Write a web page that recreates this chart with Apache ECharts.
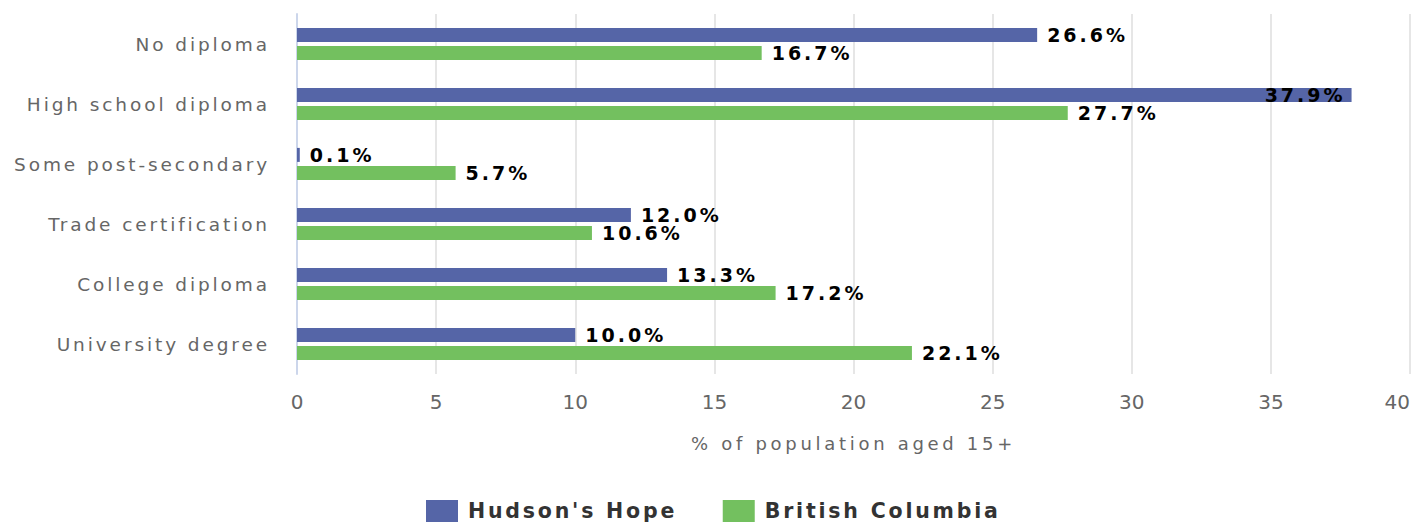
<!DOCTYPE html>
<html>
<head>
    <meta charset="UTF-8">
    <title>Education</title>
    <script src="https://cdn.jsdelivr.net/npm/echarts@6/dist/echarts.min.js"></script>
    <style>
        html, body { margin: 0; padding: 0; background: #fff; }
        #main { width: 1413px; height: 523px; }
        /* spacing between letters, the svg renderer leaves text in the DOM */
        #main text[style*="18px"] { letter-spacing: 3.7px; }
        #main text[style*="18.5px"] { letter-spacing: 2.9px; }
        #main text[style*="19px"] { letter-spacing: 3px; }
        #main text[style*="20.5px"] { letter-spacing: 2.8px; }
    </style>
</head>
<body>
<div id="main"></div>
<script type="text/javascript">
    // data
    var categories = ['No diploma', 'High school diploma', 'Some post-secondary',
        'Trade certification', 'College diploma', 'University degree'];
    var hudsonsHope = [26.6, 37.9, 0.1, 12.0, 13.3, 10.0];
    var britishColumbia = [16.7, 27.7, 5.7, 10.6, 17.2, 22.1];
    var xTicks = [0, 5, 10, 15, 20, 25, 30, 35, 40];

    var font = 'DejaVu Sans';

    var valueLabel = {
        show: true,
        position: 'right',
        distance: 10,
        color: '#000',
        fontFamily: font,
        fontWeight: 'bold',
        fontSize: 19,
        formatter: function (p) { return p.value.toFixed(1) + '%'; }
    };

    // the longest bar keeps its label inside
    var hhData = hudsonsHope.map(function (v) {
        if (v > 35) {
            return { value: v, label: { position: 'insideRight', distance: 6 } };
        }
        return v;
    });

    var myChart = echarts.init(document.getElementById('main'), null, { renderer: 'svg' });

    var option = {
        backgroundColor: '#fff',
        animation: false,
        grid: { left: 297, right: 3, top: 14, bottom: 149, outerBoundsMode: 'none' },
        legend: {
            left: 426,
            top: 500,
            padding: 0,
            itemWidth: 32,
            itemHeight: 22,
            itemGap: 82,
            icon: 'rect',
            textStyle: { fontFamily: font, fontWeight: 'bold', fontSize: 20.5, color: '#333', padding: [0, 0, 0, 5] },
            data: ["Hudson's Hope", 'British Columbia']
        },
        xAxis: {
            type: 'value',
            min: xTicks[0],
            max: xTicks[xTicks.length - 1],
            interval: xTicks[1] - xTicks[0],
            name: '% of population aged 15+',
            nameLocation: 'middle',
            nameGap: 60,
            nameTextStyle: { fontFamily: font, fontSize: 18, color: '#666' },
            axisLine: { show: false },
            axisTick: { show: false },
            axisLabel: { margin: 18, fontFamily: font, fontSize: 20, color: '#666', alignMaxLabel: 'right' },
            splitLine: { lineStyle: { color: '#dedede', width: 1.5 } }
        },
        yAxis: {
            type: 'category',
            inverse: true,
            data: categories,
            axisLine: { lineStyle: { color: '#ccd6eb', width: 2 } },
            axisTick: { length: 18, lineStyle: { color: '#ccd6eb', width: 2 } },
            axisLabel: { margin: 27, fontFamily: font, fontSize: 18.5, color: '#666' }
        },
        series: [
            {
                name: "Hudson's Hope",
                type: 'bar',
                barWidth: 14,
                barGap: '30%',
                itemStyle: { color: '#5565a7' },
                label: valueLabel,
                data: hhData
            },
            {
                name: 'British Columbia',
                type: 'bar',
                barWidth: 14,
                itemStyle: { color: '#73c05f' },
                label: valueLabel,
                data: britishColumbia
            }
        ]
    };

    myChart.setOption(option);
</script>
</body>
</html>
